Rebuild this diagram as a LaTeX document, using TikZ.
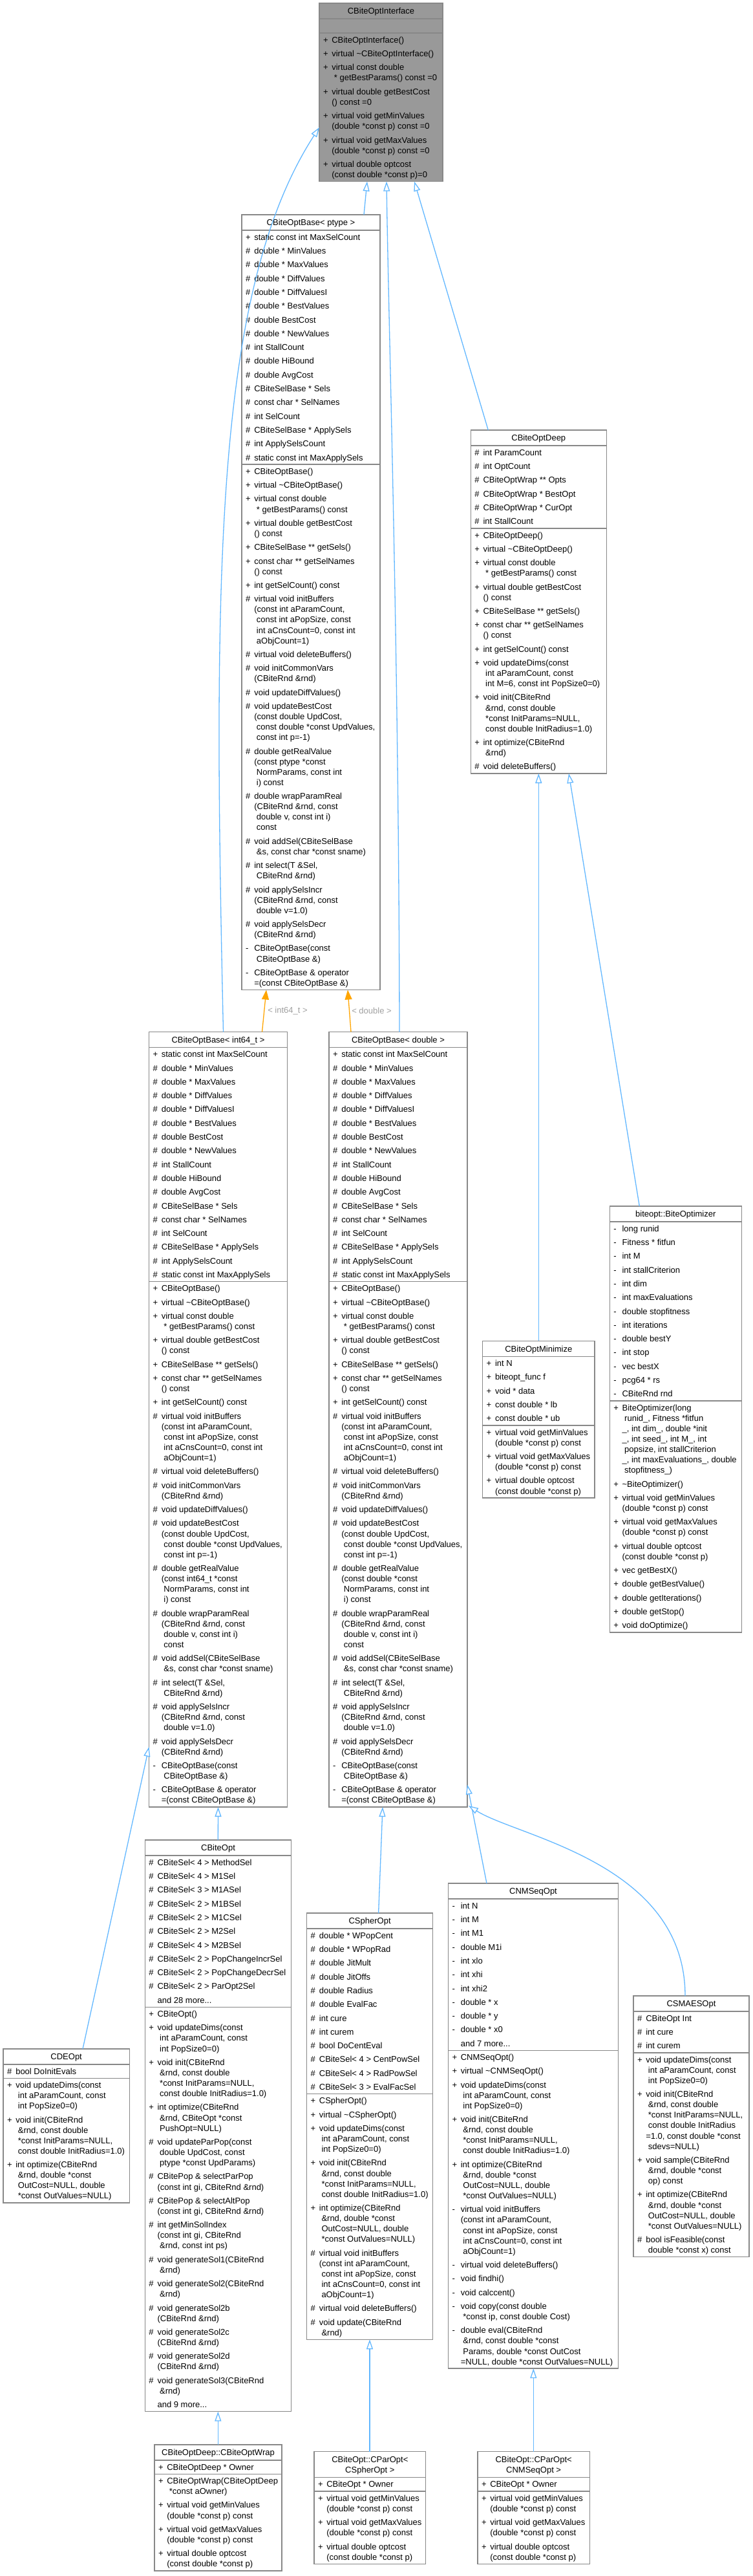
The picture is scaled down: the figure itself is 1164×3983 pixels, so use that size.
\documentclass[tikz,border=0pt]{standalone}
\usepackage{fontspec}
\setmainfont{Liberation Sans}
\usetikzlibrary{arrows.meta,calc}
\definecolor{bcol}{RGB}{136,136,136}
\definecolor{ifill}{RGB}{153,153,153}
\definecolor{ecol}{RGB}{99,184,255}
\definecolor{ocol}{RGB}{255,165,0}
\definecolor{lcol}{RGB}{160,160,160}
\newlength\pxu \setlength\pxu{0.5pt}
\newlength\bw
\newcommand\strutx{\vrule height 12.65\pxu depth 3.45\pxu width 0pt}
\newcommand\En[2]{\vskip5.2\pxu\hbox to\bw{\hskip6\pxu\hbox to13.3\pxu{#1\hss}#2\hss\strutx}}
\newcommand\Cn[1]{\hbox to\bw{\hskip19.3\pxu#1\hss\strutx}}
\newcommand\Sec[2]{\setlength\bw{#1\pxu}\vbox{\offinterlineskip\vskip-2.6\pxu#2\vskip2.6\pxu}}
\newcommand\Tl[1]{\hbox to\bw{\hss#1\hss\strutx}}
\newcommand\Ttl[2]{\setlength\bw{#1\pxu}\vbox{\offinterlineskip\vskip4\pxu#2\vskip3.9\pxu}}
\newcommand\Emp[2]{\setlength\bw{#1\pxu}\vbox to #2\pxu{\hbox to\bw{}\vfil}}
\newcommand\classbox[7]{%
 \node[box, anchor=north west] (#1T) at (#2,#3) {\Ttl{#4}{#5}};
 \node[box, anchor=north] (#1A) at (#1T.south) {\Sec{#4}{#6}};
 \node[box, anchor=north] (#1M) at (#1A.south) {\Sec{#4}{#7}};
}
\newcommand\BaseAttrs{%
\En{+}{static const int MaxSelCount}%
\En{\#}{double * MinValues}%
\En{\#}{double * MaxValues}%
\En{\#}{double * DiffValues}%
\En{\#}{double * DiffValuesI}%
\En{\#}{double * BestValues}%
\En{\#}{double BestCost}%
\En{\#}{double * NewValues}%
\En{\#}{int StallCount}%
\En{\#}{double HiBound}%
\En{\#}{double AvgCost}%
\En{\#}{CBiteSelBase * Sels}%
\En{\#}{const char * SelNames}%
\En{\#}{int SelCount}%
\En{\#}{CBiteSelBase * ApplySels}%
\En{\#}{int ApplySelsCount}%
\En{\#}{static const int MaxApplySels}}
\newcommand\BaseMeths[1]{%
\En{+}{CBiteOptBase()}%
\En{+}{virtual \textasciitilde CBiteOptBase()}%
\En{+}{virtual const double}\Cn{\ * getBestParams() const}%
\En{+}{virtual double getBestCost}\Cn{() const}%
\En{+}{CBiteSelBase ** getSels()}%
\En{+}{const char ** getSelNames}\Cn{() const}%
\En{+}{int getSelCount() const}%
\En{\#}{virtual void initBuffers}\Cn{(const int aParamCount,}\Cn{\ const int aPopSize, const}\Cn{\ int aCnsCount=0, const int}\Cn{\ aObjCount=1)}%
\En{\#}{virtual void deleteBuffers()}%
\En{\#}{void initCommonVars}\Cn{(CBiteRnd \&rnd)}%
\En{\#}{void updateDiffValues()}%
\En{\#}{void updateBestCost}\Cn{(const double UpdCost,}\Cn{\ const double *const UpdValues,}\Cn{\ const int p=-1)}%
\En{\#}{double getRealValue}\Cn{(const #1 *const}\Cn{\ NormParams, const int}\Cn{\ i) const}%
\En{\#}{double wrapParamReal}\Cn{(CBiteRnd \&rnd, const}\Cn{\ double v, const int i)}\Cn{\ const}%
\En{\#}{void addSel(CBiteSelBase}\Cn{\ \&s, const char *const sname)}%
\En{\#}{int select(T \&Sel,}\Cn{\ CBiteRnd \&rnd)}%
\En{\#}{void applySelsIncr}\Cn{(CBiteRnd \&rnd, const}\Cn{\ double v=1.0)}%
\En{\#}{void applySelsDecr}\Cn{(CBiteRnd \&rnd)}%
\En{-}{CBiteOptBase(const}\Cn{\ CBiteOptBase \&)}%
\En{-}{CBiteOptBase \& operator}\Cn{=(const CBiteOptBase \&)}}
\newcommand\ParMeth{%
\En{+}{virtual void getMinValues}\Cn{(double *const p) const}%
\En{+}{virtual void getMaxValues}\Cn{(double *const p) const}%
\En{+}{virtual double optcost}\Cn{(const double *const p)}}
\tikzset{
 box/.style={draw=bcol, line width=0.75pt, inner sep=0pt, outer sep=0pt, fill=white, text=black, font=\fontsize{6.5pt}{8pt}\selectfont},
 ibox/.style={box, fill=ifill},
 inh/.style={draw=ecol, line width=0.65pt, -{Triangle[length=7.5pt, width=5pt, fill=white]}},
 tinst/.style={draw=ocol, line width=0.65pt, -{Triangle[length=7.5pt, width=5.5pt]}},
 lbl/.style={inner sep=0pt, text=lcol, font=\fontsize{6.5pt}{8pt}\selectfont}
}
\begin{document}
\begin{tikzpicture}[x=0.5pt,y=-0.5pt]
\fill[white] (0,0) rectangle (1164,3983);
\useasboundingbox (0,0) rectangle (1164,3983);
% CBiteOptInterface
\node[ibox, anchor=north west] (iT) at (494,5) {\Ttl{191}{\Tl{CBiteOptInterface}}};
\node[ibox, anchor=north] (iA) at (iT.south) {\Emp{191}{22}};
\node[ibox, anchor=north] (iM) at (iA.south) {\Sec{191}{%
\En{+}{CBiteOptInterface()}%
\En{+}{virtual \textasciitilde CBiteOptInterface()}%
\En{+}{virtual const double}\Cn{\ * getBestParams() const =0}%
\En{+}{virtual double getBestCost}\Cn{() const =0}%
\En{+}{virtual void getMinValues}\Cn{(double *const p) const =0}%
\En{+}{virtual void getMaxValues}\Cn{(double *const p) const =0}%
\En{+}{virtual double optcost}\Cn{(const double *const p)=0}}};
% CBiteOptBase< ptype >
\classbox{p}{374}{332}{214}{\Tl{CBiteOptBase< ptype >}}{\BaseAttrs}{\BaseMeths{ptype}}
% CBiteOptDeep
\classbox{dp}{728.3}{665}{210}{\Tl{CBiteOptDeep}}{%
\En{\#}{int ParamCount}%
\En{\#}{int OptCount}%
\En{\#}{CBiteOptWrap ** Opts}%
\En{\#}{CBiteOptWrap * BestOpt}%
\En{\#}{CBiteOptWrap * CurOpt}%
\En{\#}{int StallCount}}{%
\En{+}{CBiteOptDeep()}%
\En{+}{virtual \textasciitilde CBiteOptDeep()}%
\En{+}{virtual const double}\Cn{\ * getBestParams() const}%
\En{+}{virtual double getBestCost}\Cn{() const}%
\En{+}{CBiteSelBase ** getSels()}%
\En{+}{const char ** getSelNames}\Cn{() const}%
\En{+}{int getSelCount() const}%
\En{+}{void updateDims(const}\Cn{\ int aParamCount, const}\Cn{\ int M=6, const int PopSize0=0)}%
\En{+}{void init(CBiteRnd}\Cn{\ \&rnd, const double}\Cn{\ *const InitParams=NULL,}\Cn{\ const double InitRadius=1.0)}%
\En{+}{int optimize(CBiteRnd}\Cn{\ \&rnd)}%
\En{\#}{void deleteBuffers()}}
% CBiteOptBase< int64_t > and < double >
\classbox{n}{230.5}{1595.5}{214}{\Tl{CBiteOptBase< int64\_t >}}{\BaseAttrs}{\BaseMeths{int64\_t}}
\classbox{d}{509}{1595.5}{214}{\Tl{CBiteOptBase< double >}}{\BaseAttrs}{\BaseMeths{double}}
% biteopt::BiteOptimizer
\classbox{o}{943.3}{1865}{204}{\Tl{biteopt::BiteOptimizer}}{%
\En{-}{long runid}%
\En{-}{Fitness * fitfun}%
\En{-}{int M}%
\En{-}{int stallCriterion}%
\En{-}{int dim}%
\En{-}{int maxEvaluations}%
\En{-}{double stopfitness}%
\En{-}{int iterations}%
\En{-}{double bestY}%
\En{-}{int stop}%
\En{-}{vec bestX}%
\En{-}{pcg64 * rs}%
\En{-}{CBiteRnd rnd}}{%
\En{+}{BiteOptimizer(long}\Cn{\ runid\_, Fitness *fitfun}\Cn{\_, int dim\_, double *init}\Cn{\_, int seed\_, int M\_, int}\Cn{\ popsize, int stallCriterion}\Cn{\_, int maxEvaluations\_, double}\Cn{\ stopfitness\_)}%
\En{+}{\textasciitilde BiteOptimizer()}%
\ParMeth
\En{+}{vec getBestX()}%
\En{+}{double getBestValue()}%
\En{+}{double getIterations()}%
\En{+}{double getStop()}%
\En{+}{void doOptimize()}}
% CBiteOptMinimize
\classbox{z}{746.7}{2073.4}{173.3}{\Tl{CBiteOptMinimize}}{%
\En{+}{int N}%
\En{+}{biteopt\_func f}%
\En{+}{void * data}%
\En{+}{const double * lb}%
\En{+}{const double * ub}}{\ParMeth}
% CDEOpt
\classbox{e}{5}{3168}{195.3}{\Tl{CDEOpt}}{\En{\#}{bool DoInitEvals}}{%
\En{+}{void updateDims(const}\Cn{\ int aParamCount, const}\Cn{\ int PopSize0=0)}%
\En{+}{void init(CBiteRnd}\Cn{\ \&rnd, const double}\Cn{\ *const InitParams=NULL,}\Cn{\ const double InitRadius=1.0)}%
\En{+}{int optimize(CBiteRnd}\Cn{\ \&rnd, double *const}\Cn{\ OutCost=NULL, double}\Cn{\ *const OutValues=NULL)}}
% CBiteOpt
\classbox{b}{224.3}{2845}{226.4}{\Tl{CBiteOpt}}{%
\En{\#}{CBiteSel< 4 > MethodSel}%
\En{\#}{CBiteSel< 4 > M1Sel}%
\En{\#}{CBiteSel< 3 > M1ASel}%
\En{\#}{CBiteSel< 2 > M1BSel}%
\En{\#}{CBiteSel< 2 > M1CSel}%
\En{\#}{CBiteSel< 2 > M2Sel}%
\En{\#}{CBiteSel< 4 > M2BSel}%
\En{\#}{CBiteSel< 2 > PopChangeIncrSel}%
\En{\#}{CBiteSel< 2 > PopChangeDecrSel}%
\En{\#}{CBiteSel< 2 > ParOpt2Sel}%
\En{}{and 28 more...}}{%
\En{+}{CBiteOpt()}%
\En{+}{void updateDims(const}\Cn{\ int aParamCount, const}\Cn{\ int PopSize0=0)}%
\En{+}{void init(CBiteRnd}\Cn{\ \&rnd, const double}\Cn{\ *const InitParams=NULL,}\Cn{\ const double InitRadius=1.0)}%
\En{+}{int optimize(CBiteRnd}\Cn{\ \&rnd, CBiteOpt *const}\Cn{\ PushOpt=NULL)}%
\En{\#}{void updateParPop(const}\Cn{\ double UpdCost, const}\Cn{\ ptype *const UpdParams)}%
\En{\#}{CBitePop \& selectParPop}\Cn{(const int gi, CBiteRnd \&rnd)}%
\En{\#}{CBitePop \& selectAltPop}\Cn{(const int gi, CBiteRnd \&rnd)}%
\En{\#}{int getMinSolIndex}\Cn{(const int gi, CBiteRnd}\Cn{\ \&rnd, const int ps)}%
\En{\#}{void generateSol1(CBiteRnd}\Cn{\ \&rnd)}%
\En{\#}{void generateSol2(CBiteRnd}\Cn{\ \&rnd)}%
\En{\#}{void generateSol2b}\Cn{(CBiteRnd \&rnd)}%
\En{\#}{void generateSol2c}\Cn{(CBiteRnd \&rnd)}%
\En{\#}{void generateSol2d}\Cn{(CBiteRnd \&rnd)}%
\En{\#}{void generateSol3(CBiteRnd}\Cn{\ \&rnd)}%
\En{}{and 9 more...}}
% CSpherOpt
\classbox{s}{474.6}{2958}{195}{\Tl{CSpherOpt}}{%
\En{\#}{double * WPopCent}%
\En{\#}{double * WPopRad}%
\En{\#}{double JitMult}%
\En{\#}{double JitOffs}%
\En{\#}{double Radius}%
\En{\#}{double EvalFac}%
\En{\#}{int cure}%
\En{\#}{int curem}%
\En{\#}{bool DoCentEval}%
\En{\#}{CBiteSel< 4 > CentPowSel}%
\En{\#}{CBiteSel< 4 > RadPowSel}%
\En{\#}{CBiteSel< 3 > EvalFacSel}}{%
\En{+}{CSpherOpt()}%
\En{+}{virtual \textasciitilde CSpherOpt()}%
\En{+}{void updateDims(const}\Cn{\ int aParamCount, const}\Cn{\ int PopSize0=0)}%
\En{+}{void init(CBiteRnd}\Cn{\ \&rnd, const double}\Cn{\ *const InitParams=NULL,}\Cn{\ const double InitRadius=1.0)}%
\En{+}{int optimize(CBiteRnd}\Cn{\ \&rnd, double *const}\Cn{\ OutCost=NULL, double}\Cn{\ *const OutValues=NULL)}%
\En{\#}{virtual void initBuffers}\Cn{(const int aParamCount,}\Cn{\ const int aPopSize, const}\Cn{\ int aCnsCount=0, const int}\Cn{\ aObjCount=1)}%
\En{\#}{virtual void deleteBuffers()}%
\En{\#}{void update(CBiteRnd}\Cn{\ \&rnd)}}
% CNMSeqOpt
\classbox{m}{693.5}{2912}{263}{\Tl{CNMSeqOpt}}{%
\En{-}{int N}%
\En{-}{int M}%
\En{-}{int M1}%
\En{-}{double M1i}%
\En{-}{int xlo}%
\En{-}{int xhi}%
\En{-}{int xhi2}%
\En{-}{double * x}%
\En{-}{double * y}%
\En{-}{double * x0}%
\En{}{and 7 more...}}{%
\En{+}{CNMSeqOpt()}%
\En{+}{virtual \textasciitilde CNMSeqOpt()}%
\En{+}{void updateDims(const}\Cn{\ int aParamCount, const}\Cn{\ int PopSize0=0)}%
\En{+}{void init(CBiteRnd}\Cn{\ \&rnd, const double}\Cn{\ *const InitParams=NULL,}\Cn{\ const double InitRadius=1.0)}%
\En{+}{int optimize(CBiteRnd}\Cn{\ \&rnd, double *const}\Cn{\ OutCost=NULL, double}\Cn{\ *const OutValues=NULL)}%
\En{-}{virtual void initBuffers}\Cn{(const int aParamCount,}\Cn{\ const int aPopSize, const}\Cn{\ int aCnsCount=0, const int}\Cn{\ aObjCount=1)}%
\En{-}{virtual void deleteBuffers()}%
\En{-}{void findhi()}%
\En{-}{void calccent()}%
\En{-}{void copy(const double}\Cn{\ *const ip, const double Cost)}%
\En{-}{double eval(CBiteRnd}\Cn{\ \&rnd, const double *const}\Cn{\ Params, double *const OutCost}\Cn{=NULL, double *const OutValues=NULL)}}
% CSMAESOpt
\classbox{a}{980}{3086}{179}{\Tl{CSMAESOpt}}{%
\En{\#}{CBiteOpt Int}%
\En{\#}{int cure}%
\En{\#}{int curem}}{%
\En{+}{void updateDims(const}\Cn{\ int aParamCount, const}\Cn{\ int PopSize0=0)}%
\En{+}{void init(CBiteRnd}\Cn{\ \&rnd, const double}\Cn{\ *const InitParams=NULL,}\Cn{\ const double InitRadius}\Cn{=1.0, const double *const}\Cn{\ sdevs=NULL)}%
\En{+}{void sample(CBiteRnd}\Cn{\ \&rnd, double *const}\Cn{\ op) const}%
\En{+}{int optimize(CBiteRnd}\Cn{\ \&rnd, double *const}\Cn{\ OutCost=NULL, double}\Cn{\ *const OutValues=NULL)}%
\En{\#}{bool isFeasible(const}\Cn{\ double *const x) const}}
% bottom row
\classbox{w}{239}{3780}{197}{\Tl{CBiteOptDeep::CBiteOptWrap}}{\En{+}{CBiteOptDeep * Owner}}{%
\En{+}{CBiteOptWrap(CBiteOptDeep}\Cn{\ *const aOwner)}%
\ParMeth}
\classbox{q}{486}{3790.6}{172.7}{\Tl{CBiteOpt::CParOpt<}\Tl{CSpherOpt >}}{\En{+}{CBiteOpt * Owner}}{\ParMeth}
\classbox{r}{739}{3790.6}{173.3}{\Tl{CBiteOpt::CParOpt<}\Tl{CNMSeqOpt >}}{\En{+}{CBiteOpt * Owner}}{\ParMeth}
% edges
\draw[inh] ($(pT.north west)+(189,0)$) -- ($(iM.south west)+(74,0)$);
\draw[inh] ($(dT.north west)+(109,0)$) .. controls (617,1000) and (601,500) .. ($(iM.south west)+(104,0)$);
\draw[inh] ($(dpT.north west)+(27,0)$) -- ($(iM.south west)+(147,0)$);
\draw[inh] ($(nT.north west)+(115,0)$) .. controls (330,900) and (330,450) .. ($(iM.north west)+(0,146)$);
\draw[tinst] ($(nT.north west)+(175,0)$) -- ($(pM.south west)+(38,0)$);
\draw[tinst] ($(dT.north west)+(34,0)$) -- ($(pM.south west)+(164,0)$);
\node[lbl] (l1) at (445,1563) {< int64\_t >};
\node[lbl] (l2) at (575,1563) {< double >};
\draw[inh] ($(eT.north west)+(123,0)$) -- ($(nM.south west)+(0,-93)$);
\draw[inh] ($(bT.north west)+(113,0)$) -- ($(nM.south west)+(107,0)$);
\draw[inh] ($(sT.north west)+(111,0)$) -- ($(dM.south west)+(83,0)$);
\draw[inh] ($(mT.north west)+(59.5,0)$) -- ($(dM.south east)+(0,-34.5)$);
\draw[inh] ($(aT.north west)+(80,0)$) .. controls (1060,2880) and (800,2840) .. ($(dM.south east)+(2,-2)$);
\draw[inh] ($(zT.north west)+(86.6,0)$) -- ($(dpM.south west)+(105,0)$);
\draw[inh] ($(oT.north west)+(46,0)$) -- ($(dpM.south west)+(151.7,0)$);
\draw[inh] ($(wT.north west)+(98.3,0)$) -- ($(bM.south west)+(113,0)$);
\draw[inh] ($(qT.north west)+(86,0)$) -- ($(sM.south west)+(97.4,0)$);
\draw[inh] ($(rT.north west)+(86.3,0)$) -- ($(mM.south west)+(131.8,0)$);
\end{tikzpicture}
\end{document}
